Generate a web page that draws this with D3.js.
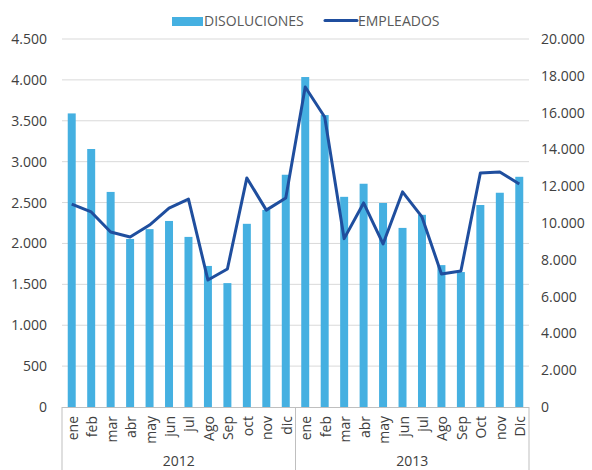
<!DOCTYPE html>
<html>
<head>
<meta charset="utf-8">
<script src="https://cdn.jsdelivr.net/npm/d3@7"></script>
<style>
  body { margin: 0; background: #fff; }
  text { font-family: "Open Sans", "Noto Sans", sans-serif; }
</style>
</head>
<body>
<div id="chart"></div>
<script>
var months = ["ene","feb","mar","abr","may","jun","jul","Ago","Sep","oct","nov","dic",
              "ene","feb","mar","abr","may","jun","jul","Ago","Sep","Oct","nov","Dic"];
var years = ["2012", "2013"];
var disoluciones = [3590,3155,2630,2055,2175,2275,2080,1725,1515,2240,2410,2840,
                    4035,3570,2570,2730,2495,2190,2350,1735,1650,2470,2620,2815];
var empleados = [11030,10600,9510,9240,9890,10810,11300,6900,7500,12450,10700,11360,
                 17390,15760,9150,11090,8860,11690,10330,7230,7390,12720,12770,12120];
var leftTicks = [0,500,1000,1500,2000,2500,3000,3500,4000,4500];
var rightTicks = [0,2000,4000,6000,8000,10000,12000,14000,16000,18000,20000];

var W = 592, H = 470;
var pLeft = 62, pRight = 529, pTop = 39, pBottom = 407;
var barColor = "#45b0e1", lineColor = "#1f4e9e";
var fs = 14;

var fmt = function(v) { return d3.format(",")(v).replace(/,/g, "."); };

var svg = d3.select("#chart").append("svg")
  .attr("width", W)
  .attr("height", H);

var idx = d3.range(months.length);
var x = d3.scaleBand().domain(idx).range([pLeft, pRight]).paddingInner(0.59).paddingOuter(0.295);
var yL = d3.scaleLinear().domain([0, 4500]).range([pBottom, pTop]);
var yR = d3.scaleLinear().domain([0, 20000]).range([pBottom, pTop]);

// grid
svg.append("g").selectAll("line")
  .data(leftTicks.slice(1))
  .enter().append("line")
  .attr("x1", pLeft).attr("x2", pRight)
  .attr("y1", d => yL(d)).attr("y2", d => yL(d))
  .attr("stroke", "#d9d9d9").attr("stroke-width", 1);

// left axis
var axL = svg.append("g")
  .attr("transform", "translate(" + pLeft + ",0)")
  .call(d3.axisLeft(yL).tickValues(leftTicks).tickFormat(fmt).tickSize(0).tickPadding(15));
axL.select(".domain").remove();
axL.selectAll("text").attr("font-size", fs).attr("fill", "#404040")
  .attr("font-family", "'Open Sans', sans-serif");

// right axis
var axR = svg.append("g")
  .attr("transform", "translate(" + pRight + ",0)")
  .call(d3.axisRight(yR).tickValues(rightTicks).tickFormat(fmt).tickSize(0).tickPadding(12));
axR.select(".domain").remove();
axR.selectAll("text").attr("font-size", fs).attr("fill", "#404040")
  .attr("font-family", "'Open Sans', sans-serif");

// bars
svg.append("g").selectAll("rect")
  .data(disoluciones)
  .enter().append("rect")
  .attr("x", (d, i) => x(i))
  .attr("width", x.bandwidth())
  .attr("y", d => yL(d))
  .attr("height", d => pBottom - yL(d))
  .attr("fill", barColor);

// line
var line = d3.line()
  .x((d, i) => x(i) + x.bandwidth() / 2)
  .y(d => yR(d));
svg.append("path")
  .datum(empleados)
  .attr("d", line)
  .attr("fill", "none")
  .attr("stroke", lineColor)
  .attr("stroke-width", 3)
  .attr("stroke-linejoin", "round");

// category axis
svg.append("line")
  .attr("x1", pLeft).attr("x2", pRight)
  .attr("y1", pBottom + 0.5).attr("y2", pBottom + 0.5)
  .attr("stroke", "#bfbfbf");
var step = (pRight - pLeft) / months.length;
var seps = [0, 12, 24].map(i => pLeft + i * step);
svg.append("g").selectAll("line")
  .data(seps)
  .enter().append("line")
  .attr("x1", d => d).attr("x2", d => d)
  .attr("y1", pBottom).attr("y2", H)
  .attr("stroke", "#bfbfbf");

svg.append("g").selectAll("text")
  .data(months)
  .enter().append("text")
  .attr("transform", (d, i) => "translate(" + (x(i) + x.bandwidth() / 2 + 6) + "," + (pBottom + 9) + ") rotate(-90)")
  .attr("text-anchor", "end")
  .attr("font-size", fs)
  .attr("fill", "#404040")
  .text(d => d);

svg.append("g").selectAll("text")
  .data(years)
  .enter().append("text")
  .attr("x", (d, i) => (seps[i] + seps[i + 1]) / 2)
  .attr("y", 466)
  .attr("text-anchor", "middle")
  .attr("font-size", fs)
  .attr("fill", "#404040")
  .text(d => d);

// legend
var lg = svg.append("g");
lg.append("rect").attr("x", 172).attr("y", 17).attr("width", 31).attr("height", 9).attr("fill", barColor);
lg.append("text").attr("x", 204).attr("y", 26).attr("font-size", fs).attr("fill", "#595959").text("DISOLUCIONES");
lg.append("line").attr("x1", 325).attr("x2", 357).attr("y1", 20.5).attr("y2", 20.5)
  .attr("stroke", lineColor).attr("stroke-width", 3).attr("stroke-linecap", "round");
lg.append("text").attr("x", 358).attr("y", 26).attr("font-size", fs).attr("fill", "#595959").text("EMPLEADOS");
</script>
</body>
</html>
